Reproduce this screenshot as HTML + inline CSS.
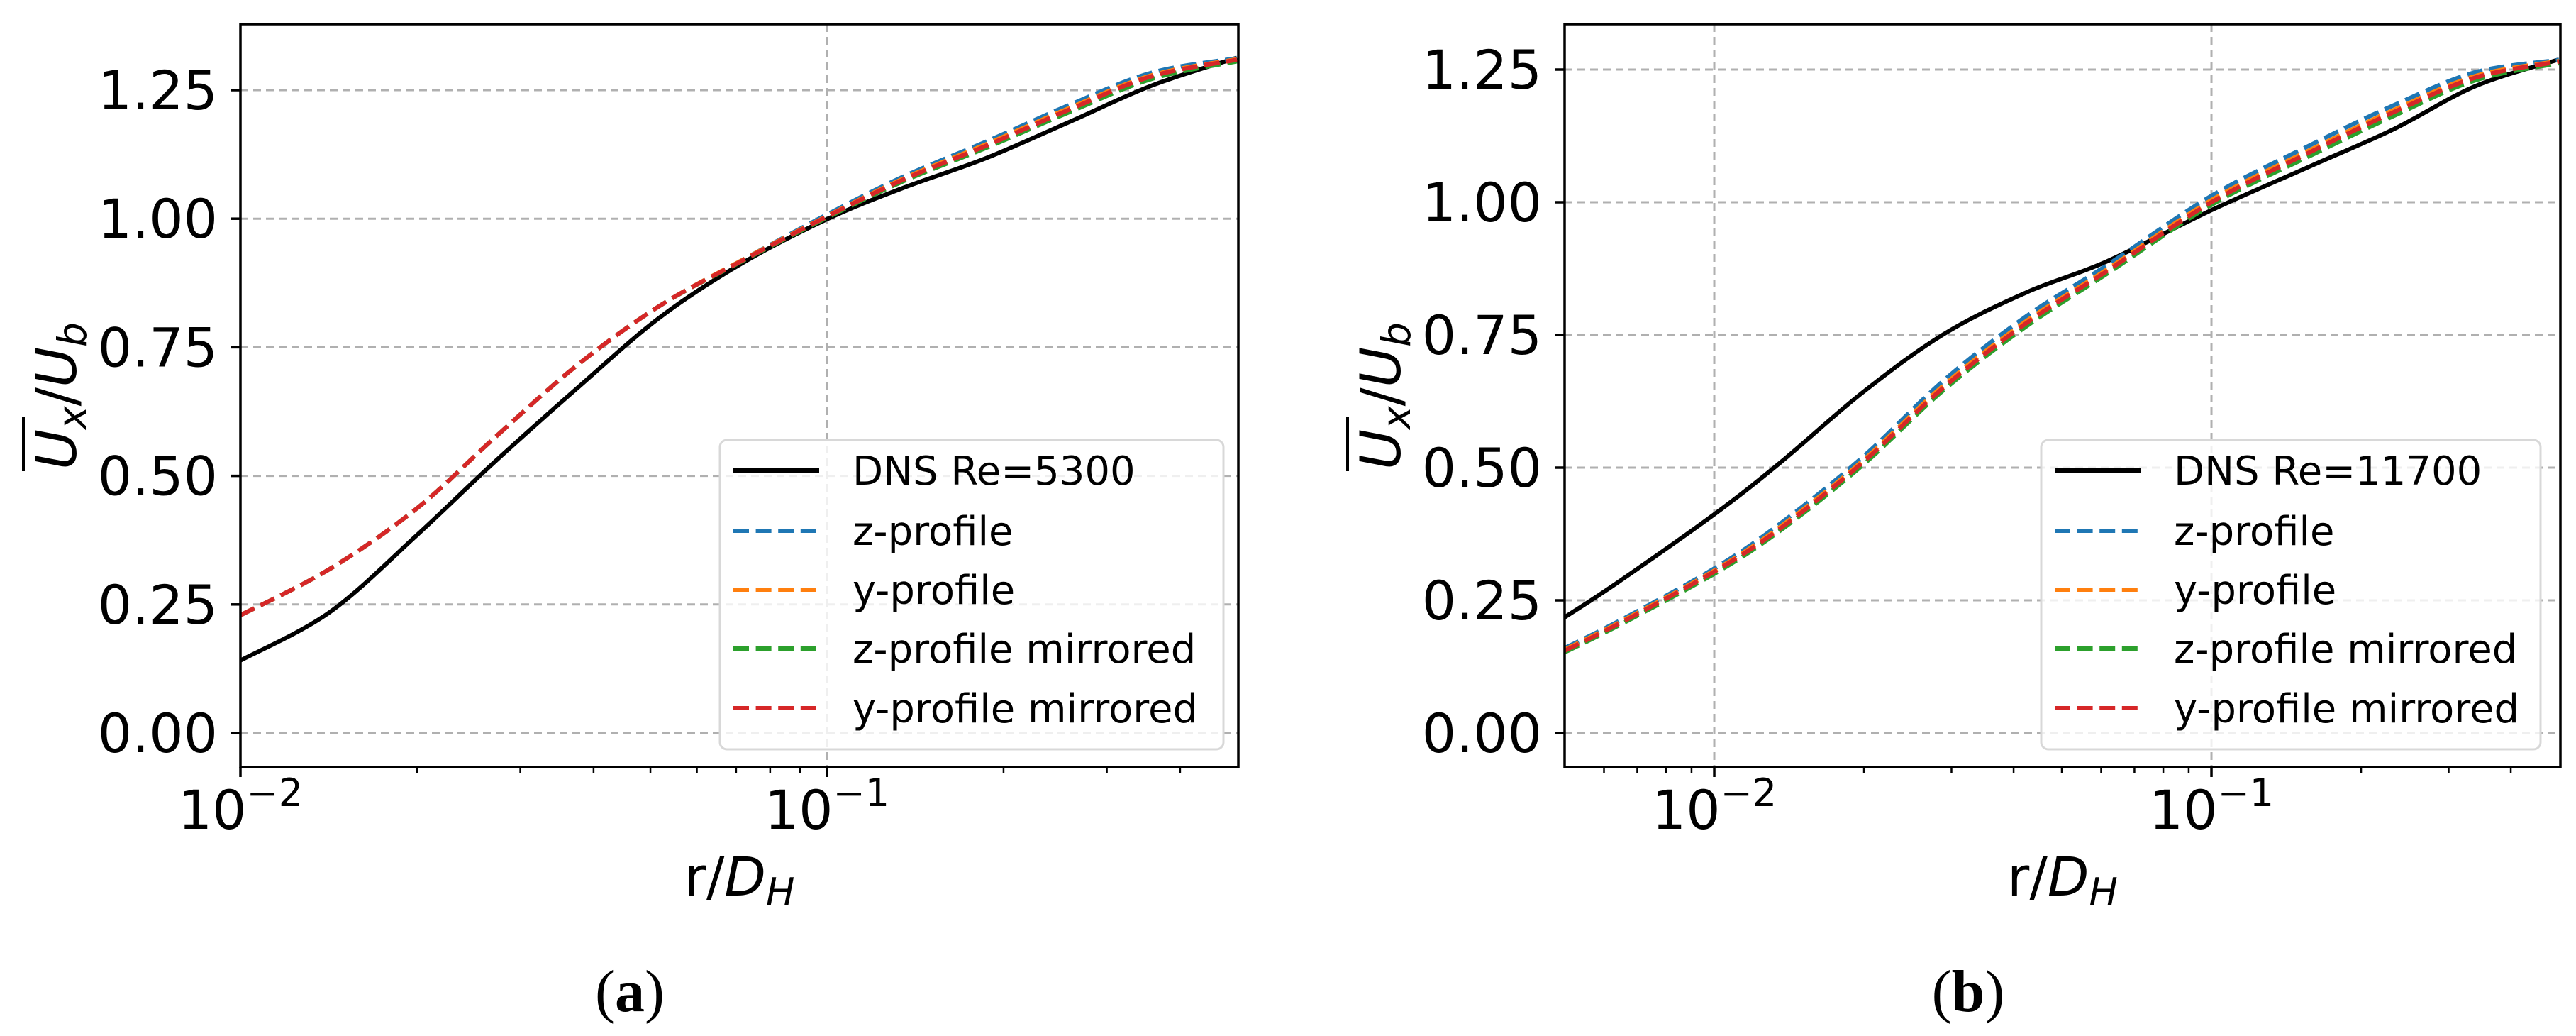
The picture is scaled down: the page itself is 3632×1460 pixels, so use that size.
<!DOCTYPE html>
<html><head><meta charset="utf-8"><style>
html,body{margin:0;padding:0;background:#fff;}
svg{display:block;font-family:"DejaVu Sans","Liberation Sans",sans-serif;}
</style></head><body>
<svg id="fig" width="3632" height="1460" viewBox="0 0 3632 1460" xmlns="http://www.w3.org/2000/svg"></svg>
<script>
// ---- data panel a ----
const aR = [0.01,0.0142,0.02,0.027,0.0373,0.0516,0.0713,0.1,0.135,0.187,0.26,0.358,0.5];
const aDNS = [0.141,0.235,0.385,0.525,0.668,0.806,0.912,0.999,1.06,1.118,1.189,1.259,1.313];
const aZ = [0.229,0.319,0.437,0.572,0.713,0.829,0.918,1.008,1.082,1.150,1.222,1.284,1.312];
const aY = [0.229,0.319,0.437,0.572,0.713,0.829,0.918,1.005,1.078,1.145,1.216,1.279,1.310];
const aZM = [0.229,0.319,0.437,0.572,0.713,0.829,0.916,1.002,1.073,1.138,1.208,1.272,1.306];
const aYM = [0.229,0.319,0.437,0.572,0.713,0.829,0.917,1.004,1.076,1.142,1.213,1.277,1.309];
// ---- data panel b ----
const bR = [0.005,0.0064,0.01,0.0136,0.0199,0.029,0.0424,0.0618,0.1,0.16,0.233,0.34,0.5];
const bDNS = [0.218,0.284,0.412,0.510,0.642,0.752,0.830,0.889,0.985,1.07,1.138,1.219,1.269];
const bZ = [0.160,0.210,0.310,0.395,0.52,0.665,0.785,0.882,1.012,1.11,1.183,1.245,1.268];
const bY = [0.157,0.207,0.306,0.389,0.513,0.656,0.776,0.874,1.004,1.101,1.174,1.238,1.266];
const bZM = [0.152,0.202,0.300,0.382,0.505,0.647,0.766,0.866,0.995,1.090,1.163,1.230,1.262];
const bYM = [0.155,0.205,0.304,0.386,0.510,0.652,0.772,0.871,1.000,1.097,1.170,1.235,1.265];
const yTicks = [0,0.25,0.5,0.75,1.0,1.25];
const yTickLabels = ["0.00","0.25","0.50","0.75","1.00","1.25"];
const legendLabels = ["z-profile","y-profile","z-profile mirrored","y-profile mirrored"];
const colors = ["#1f77b4","#ff7f0e","#2ca02c","#d62728"];

const NS="http://www.w3.org/2000/svg";
const svg=document.getElementById('fig');
function el(tag,attrs,parent){const e=document.createElementNS(NS,tag);for(const k in attrs)e.setAttribute(k,attrs[k]);(parent||svg).appendChild(e);return e;}

function smoothPath(pts){
  let d="M"+pts[0][0].toFixed(1)+","+pts[0][1].toFixed(1);
  for(let i=0;i<pts.length-1;i++){
    const p0=pts[Math.max(0,i-1)],p1=pts[i],p2=pts[i+1],p3=pts[Math.min(pts.length-1,i+2)];
    const c1=[p1[0]+(p2[0]-p0[0])/6,p1[1]+(p2[1]-p0[1])/6];
    const c2=[p2[0]-(p3[0]-p1[0])/6,p2[1]-(p3[1]-p1[1])/6];
    d+=" C"+c1[0].toFixed(1)+","+c1[1].toFixed(1)+" "+c2[0].toFixed(1)+","+c2[1].toFixed(1)+" "+p2[0].toFixed(1)+","+p2[1].toFixed(1);
  }
  return d;
}

function panel(cfg){
  const g=el('g',{});
  
  
  const L=cfg.left,R=cfg.right,T=34,B=1081;
  const xs=v=>L+(Math.log10(v)-Math.log10(cfg.xmin))*cfg.dec;
  const ys=v=>cfg.y0-v*cfg.step/0.25;
  yTicks.forEach((t,i)=>{
    const gl=el('line',{x1:L,x2:R,y1:ys(t),y2:ys(t),stroke:'#b0b0b0','stroke-width':3,'stroke-dasharray':'11,7'},g);
    
    
    const tk=el('line',{x1:L-14,x2:L,y1:ys(t),y2:ys(t),stroke:'#000','stroke-width':3.5},g);
    
    
    const tl=el('text',{x:L-32,y:ys(t)+27,'font-size':76,'text-anchor':'end',fill:'#000'},g);
    tl.textContent=yTickLabels[i];
    
    
  });
  cfg.majors.forEach(m=>{
    const x=xs(m.v);
    const gl=el('line',{x1:x,x2:x,y1:T,y2:B,stroke:'#b0b0b0','stroke-width':3,'stroke-dasharray':'11,7'},g);
    
    
    const tk=el('line',{x1:x,x2:x,y1:B,y2:B+14,stroke:'#000','stroke-width':3.5},g);
    
    
    const t=el('text',{x:x,y:1168,'font-size':76,'text-anchor':'middle',fill:'#000'},g);
    
    
    const t1=el('tspan',{},t);t1.textContent="10";
    const t2=el('tspan',{dy:-32,'font-size':54},t);t2.textContent="\u2212"+m.e;
  });
  cfg.minors.forEach(v=>{
    const x=xs(v);
    const tk=el('line',{x1:x,x2:x,y1:B,y2:B+8,stroke:'#000','stroke-width':2.5},g);
    
    
  });
  const clipId='clip'+cfg.name;
  const cp=el('clipPath',{id:clipId},g);el('rect',{x:L,y:T,width:R-L,height:B-T},cp);
  const series=[[cfg.dns,'#000',null,'dns-line']].concat(cfg.dashed.map((s,i)=>[s,colors[i],'22,9.6',['z-profile-line','y-profile-line','z-profile-mirrored-line','y-profile-mirrored-line'][i]]));
  series.forEach(s=>{
    const pts=cfg.r.map((r,i)=>[xs(r),ys(s[0][i])]);
    const p=el('path',{d:smoothPath(pts),fill:'none',stroke:s[1],'stroke-width':6,'clip-path':'url(#'+clipId+')'},g);
    if(s[2])p.setAttribute('stroke-dasharray',s[2]);
    
    
  });
  const sp=el('rect',{x:L,y:T,width:R-L,height:B-T,fill:'none',stroke:'#000','stroke-width':3.5},g);
  
  
  const lg=el('g',{},g);
  
  
  const lb=el('rect',{x:cfg.lgL,y:620,width:cfg.lgR-cfg.lgL,height:436,rx:10,fill:'#fff','fill-opacity':0.8,stroke:'#d8d8d8','stroke-width':3},lg);
  
  
  const rows=[663,748,831,914,998];
  const labs=[cfg.dnsLabel].concat(legendLabels);
  rows.forEach((yy,i)=>{
    const hl=el('line',{x1:cfg.lgL+19,x2:cfg.lgL+140,y1:yy,y2:yy,stroke:i==0?'#000':colors[i-1],'stroke-width':6},lg);
    if(i>0)hl.setAttribute('stroke-dasharray','22,9.6');
    
    
    const tx=el('text',{x:cfg.lgL+187,y:yy+20,'font-size':56,fill:'#000'},lg);
    tx.textContent=labs[i];
    
    
  });
  const xl=el('text',{x:(L+R)/2,y:1262,'font-size':76,'text-anchor':'middle',fill:'#000'},g);
  
  
  const x1=el('tspan',{},xl);x1.textContent="r/";
  const x2=el('tspan',{'font-style':'italic'},xl);x2.textContent="D";
  const x3=el('tspan',{'font-style':'italic','font-size':54,dy:14},xl);x3.textContent="H";
  const yg=el('g',{transform:'translate('+(L-232)+',558) rotate(-90)'},g);
  
  
  const yl=el('text',{x:0,y:0,'font-size':78,'text-anchor':'middle',fill:'#000'},yg);
  const u1=el('tspan',{'font-style':'italic'},yl);u1.textContent="U";
  const u2=el('tspan',{'font-style':'italic','font-size':55,dy:14},yl);u2.textContent="x";
  const u3=el('tspan',{dy:-14},yl);u3.textContent="/";
  const u4=el('tspan',{'font-style':'italic'},yl);u4.textContent="U";
  const u5=el('tspan',{'font-style':'italic','font-size':55,dy:14},yl);u5.textContent="b";
  el('line',{x1:-106,x2:-30,y1:-74,y2:-74,stroke:'#000','stroke-width':4},yg);
  const cap=el('text',{x:cfg.capX,y:1425,'font-size':84,'text-anchor':'middle',fill:'#000','font-family':'"Liberation Serif",serif'},svg);
  
  
  const c1=el('tspan',{},cap);c1.textContent="(";
  const c2=el('tspan',{'font-weight':'bold'},cap);c2.textContent=cfg.cap;
  const c3=el('tspan',{},cap);c3.textContent=")";
}

panel({name:'panel-a',left:339,right:1746,xmin:0.01,dec:827,y0:1033,step:181.2,
  r:aR,dns:aDNS,dashed:[aZ,aY,aZM,aYM],dnsLabel:"DNS Re=5300",
  majors:[{v:0.01,e:2},{v:0.1,e:1}],
  minors:[0.02,0.03,0.04,0.05,0.06,0.07,0.08,0.09,0.2,0.3,0.4],
  lgL:1015,lgR:1725,capX:888,cap:'a'});
panel({name:'panel-b',left:2206,right:3610,xmin:0.005,dec:701,y0:1033,step:187,
  r:bR,dns:bDNS,dashed:[bZ,bY,bZM,bYM],dnsLabel:"DNS Re=11700",
  majors:[{v:0.01,e:2},{v:0.1,e:1}],
  minors:[0.006,0.007,0.008,0.009,0.02,0.03,0.04,0.05,0.06,0.07,0.08,0.09,0.2,0.3,0.4],
  lgL:2878,lgR:3582,capX:2775,cap:'b'});
</script>
</body></html>
